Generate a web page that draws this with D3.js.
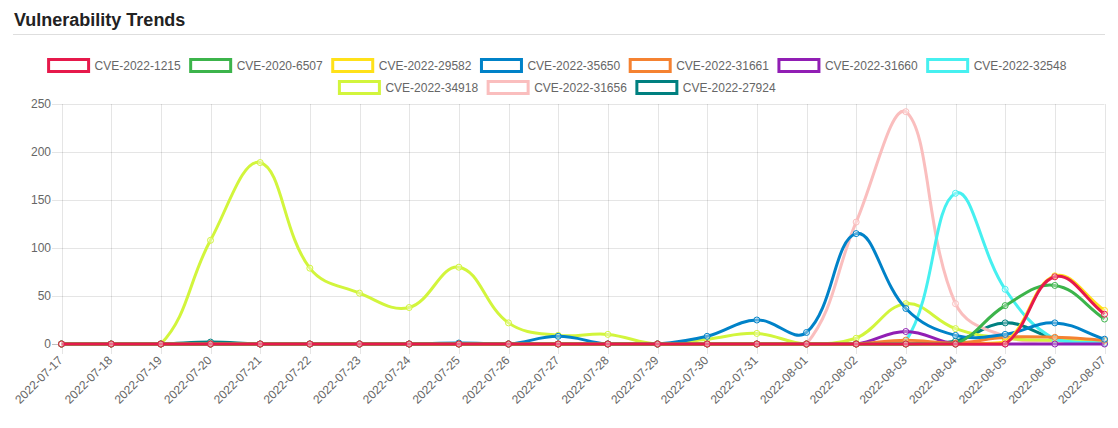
<!DOCTYPE html>
<html><head><meta charset="utf-8">
<script src="https://cdn.jsdelivr.net/npm/d3@7"></script>
<style>
body{margin:0;background:#fff;}
svg{display:block;font-family:"Liberation Sans",Arial,Helvetica,sans-serif;}
</style>
</head><body>
<svg id="c" width="1118" height="428"></svg>
<script>
const dates = ["2022-07-17","2022-07-18","2022-07-19","2022-07-20","2022-07-21","2022-07-22","2022-07-23","2022-07-24","2022-07-25","2022-07-26","2022-07-27","2022-07-28","2022-07-29","2022-07-30","2022-07-31","2022-08-01","2022-08-02","2022-08-03","2022-08-04","2022-08-05","2022-08-06","2022-08-07"];
const seriesNames = ["CVE-2022-1215","CVE-2020-6507","CVE-2022-29582","CVE-2022-35650","CVE-2022-31661","CVE-2022-31660","CVE-2022-32548","CVE-2022-34918","CVE-2022-31656","CVE-2022-27924"];
const seriesColors = ["#e6194b","#3cb44b","#ffe119","#0082c8","#f58231","#911eb4","#46f0f0","#d2f53c","#fabebe","#008080"];
const cve2022_1215  = [0,0,0,0,0,0,0,0,0,0,0,0,0,0,0,0,0,0,0,0,70,31];
const cve2020_6507  = [0,0,0,0,0,0,0,0,0,0,0,0,0,0,0,0,0,0,0,40,61,26];
const cve2022_29582 = [0,0,0,0,0,0,0,0,0,0,0,0,0,0,0,0,0,0,0,2,71,35];
const cve2022_35650 = [0,0,0,0,0,0,0,0,1,0,8,0,0,8,25,12,115,37,9,10,22,5];
const cve2022_31661 = [0,0,0,0,0,0,0,0,0,0,0,0,0,0,0,0,0,4,1,7,7,4];
const cve2022_31660 = [0,0,0,0,0,0,0,0,0,0,0,0,0,0,0,0,0,13,0,0,0,0];
const cve2022_32548 = [0,0,0,0,0,0,0,0,0,0,0,0,0,0,0,0,0,3,157,57,5,1];
const cve2022_34918 = [0,0,0,108,189,79,53,38,80,22,9,10,0,5,11,0,6,42,16,6,4,3];
const cve2022_31656 = [0,0,0,0,0,0,0,0,0,0,0,0,0,0,0,0,127,242,42,8,3,2];
const cve2022_27924 = [0,0,0,2,0,0,0,0,0,0,0,0,0,0,0,0,0,0,3,22,6,1];
const seriesValues = [cve2022_1215,cve2020_6507,cve2022_29582,cve2022_35650,cve2022_31661,cve2022_31660,cve2022_32548,cve2022_34918,cve2022_31656,cve2022_27924];
const yTicks = [0,50,100,150,200,250];
const titleText = "Vulnerability Trends";

const svg = d3.select("#c");
const area = {left:61.5, right:1104.5, top:104, bottom:344};
const x = d3.scalePoint().domain(dates).range([area.left, area.right]);
const y = d3.scaleLinear().domain([0,250]).range([area.bottom, area.top]);

// title
svg.append("text").attr("x",14).attr("y",26).attr("font-size",18).attr("font-weight","bold")
  .attr("fill","#222").text(titleText);
svg.append("line").attr("x1",13).attr("x2",1105).attr("y1",34.5).attr("y2",34.5)
  .attr("stroke","#dedede");

// grid
const g = svg.append("g");
yTicks.forEach(t=>{
  g.append("line").attr("x1",52).attr("x2",area.right).attr("y1",Math.round(y(t))+0.5).attr("y2",Math.round(y(t))+0.5)
   .attr("stroke", t===0 ? "rgba(0,0,0,0.25)" : "rgba(0,0,0,0.1)");
  g.append("text").attr("x",51).attr("y",y(t)).attr("dy","0.35em").attr("text-anchor","end")
   .attr("font-size",12).attr("fill","#666").text(t);
});
dates.forEach((d,i)=>{
  const xx = Math.round(x(d))+0.5;
  g.append("line").attr("x1",xx).attr("x2",xx).attr("y1",area.top).attr("y2",354)
   .attr("stroke","rgba(0,0,0,0.1)");
  g.append("text").attr("transform",`translate(${x(d)-1},358) rotate(-45)`)
   .attr("text-anchor","end").attr("dy","0.35em").attr("font-size",12).attr("fill","#666").text(d);
});

// Chart.js-like spline
function splinePath(pts, t){
  const n = pts.length;
  const cl = v=>[Math.max(area.left,Math.min(area.right,v[0])),Math.max(area.top,Math.min(area.bottom,v[1]))];
  const cps = pts.map((cur,i)=>{
    const prev = i>0 ? pts[i-1] : cur;
    const next = i<n-1 ? pts[i+1] : cur;
    const d01 = Math.hypot(cur[0]-prev[0],cur[1]-prev[1]);
    const d12 = Math.hypot(next[0]-cur[0],next[1]-cur[1]);
    let s01 = d01/(d01+d12), s12 = d12/(d01+d12);
    if(isNaN(s01)) s01=0; if(isNaN(s12)) s12=0;
    const fa=t*s01, fb=t*s12;
    return {
      prev: cl([cur[0]-fa*(next[0]-prev[0]), cur[1]-fa*(next[1]-prev[1])]),
      next: cl([cur[0]+fb*(next[0]-prev[0]), cur[1]+fb*(next[1]-prev[1])])
    };
  });
  const p = d3.path();
  p.moveTo(pts[0][0],pts[0][1]);
  for(let i=1;i<n;i++){
    p.bezierCurveTo(cps[i-1].next[0],cps[i-1].next[1],cps[i].prev[0],cps[i].prev[1],pts[i][0],pts[i][1]);
  }
  return p.toString();
}

const lines = svg.append("g");
for(let s=seriesValues.length-1;s>=0;s--){
  const pts = seriesValues[s].map((v,i)=>[x(dates[i]), y(v)]);
  const gs = lines.append("g");
  gs.append("path").attr("d",splinePath(pts,0.4)).attr("fill","none")
    .attr("stroke",seriesColors[s]).attr("stroke-width",3);
  gs.selectAll("circle").data(pts).join("circle")
    .attr("cx",d=>d[0]).attr("cy",d=>d[1]).attr("r",3)
    .attr("fill","rgba(255,255,255,0.35)").attr("stroke",seriesColors[s]).attr("stroke-width",1);
}

// legend (Chart.js-like layout: box 40, gap fontSize/2, padding 10, centered rows)
const leg = svg.append("g").attr("font-size",12).attr("fill","#666");
const rows = [[0,1,2,3,4,5,6],[7,8,9]];
const rowY = [65.5, 87.5];
const legendCenter = 562.5;
rows.forEach((r,ri)=>{
  const items = r.map(s=>{
    const t = leg.append("text").attr("y",rowY[ri]).attr("dy","0.35em").text(seriesNames[s]);
    return {s, t, w: t.node().getComputedTextLength()};
  });
  const lineW = d3.sum(items, it=>40+6+it.w+10);
  let cx = legendCenter - lineW/2;
  items.forEach(it=>{
    leg.append("rect").attr("x",cx).attr("y",rowY[ri]-6).attr("width",40).attr("height",12)
      .attr("fill","#fff").attr("stroke",seriesColors[it.s]).attr("stroke-width",3);
    it.t.attr("x",cx+46);
    cx += 40+6+it.w+10;
  });
});
</script>
</body></html>
